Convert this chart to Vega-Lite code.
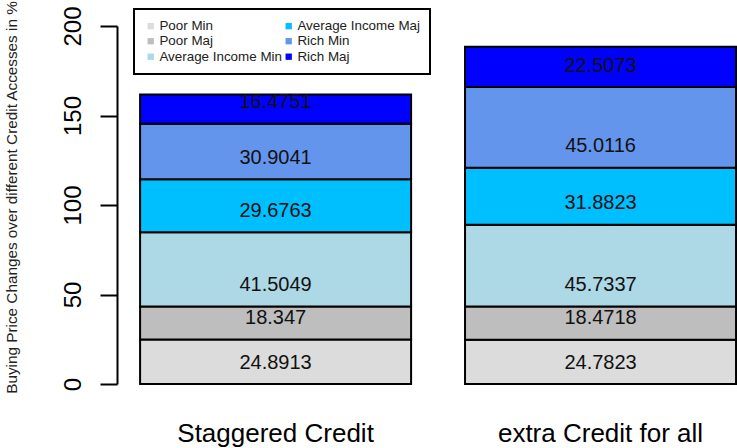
{
  "$schema": "https://vega.github.io/schema/vega-lite/v6.json",
  "width": 620,
  "height": 358,
  "autosize": {"type": "none"},
  "padding": {"left": 117, "top": 26, "right": 0, "bottom": 64},
  "background": "white",
  "config": {
    "view": {"stroke": null},
    "font": "Liberation Sans",
    "legend": {"strokeWidth": 2}
  },
  "data": {
    "values": [
      {"scenario": "Staggered Credit", "group": "Poor Min", "seg": 1, "value": 24.8913},
      {"scenario": "Staggered Credit", "group": "Poor Maj", "seg": 2, "value": 18.347},
      {"scenario": "Staggered Credit", "group": "Average Income Min", "seg": 3, "value": 41.5049},
      {"scenario": "Staggered Credit", "group": "Average Income Maj", "seg": 4, "value": 29.6763},
      {"scenario": "Staggered Credit", "group": "Rich Min", "seg": 5, "value": 30.9041},
      {"scenario": "Staggered Credit", "group": "Rich Maj", "seg": 6, "value": 16.4751},
      {"scenario": "extra Credit for all", "group": "Poor Min", "seg": 1, "value": 24.7823},
      {"scenario": "extra Credit for all", "group": "Poor Maj", "seg": 2, "value": 18.4718},
      {"scenario": "extra Credit for all", "group": "Average Income Min", "seg": 3, "value": 45.7337},
      {"scenario": "extra Credit for all", "group": "Average Income Maj", "seg": 4, "value": 31.8823},
      {"scenario": "extra Credit for all", "group": "Rich Min", "seg": 5, "value": 45.0116},
      {"scenario": "extra Credit for all", "group": "Rich Maj", "seg": 6, "value": 22.5073}
    ]
  },
  "transform": [
    {"stack": "value", "groupby": ["scenario"], "sort": [{"field": "seg", "order": "ascending"}], "as": ["y0", "y1"]}
  ],
  "layer": [
    {
      "mark": {"type": "bar", "stroke": "black", "strokeWidth": 2},
      "encoding": {
        "x": {
          "field": "scenario",
          "type": "nominal",
          "sort": ["Staggered Credit", "extra Credit for all"],
          "scale": {"paddingInner": 0.166, "paddingOuter": 0.037, "align": 0.96},
          "axis": {
            "title": null,
            "domain": false,
            "ticks": false,
            "tickSize": 0,
            "labelAngle": 0,
            "labelFontSize": 26,
            "labelColor": "black",
            "labelPadding": 57,
            "labelBaseline": "alphabetic",
            "labelLimit": 0
          }
        },
        "y": {
          "field": "y0",
          "type": "quantitative",
          "scale": {"domain": [0, 200], "nice": false},
          "axis": {
            "title": "Buying Price Changes over different Credit Accesses in %",
            "titleFontSize": 15.3,
            "titleFontWeight": "normal",
            "titleColor": "#222",
            "titleAngle": 270,
            "titleAlign": "center",
            "titleBaseline": "middle",
            "titleX": -106,
            "titleY": 171,
            "values": [0, 50, 100, 150, 200],
            "grid": false,
            "domainColor": "black",
            "domainWidth": 2,
            "tickColor": "black",
            "tickWidth": 2,
            "tickSize": 17,
            "labelFontSize": 24,
            "labelColor": "black",
            "labelAngle": -90,
            "labelAlign": "center",
            "labelBaseline": "alphabetic",
            "labelPadding": 20,
            "labelFlush": false,
            "labelOverlap": false
          }
        },
        "y2": {"field": "y1"},
        "color": {
          "field": "group",
          "type": "nominal",
          "scale": {
            "domain": ["Poor Min", "Poor Maj", "Average Income Min", "Average Income Maj", "Rich Min", "Rich Maj"],
            "range": ["#dcdcdc", "#bebebe", "#add8e6", "#00bfff", "#6495ed", "#0000ff"]
          },
          "legend": {
            "title": null,
            "orient": "none",
            "legendX": 17,
            "legendY": -17,
            "columns": 2,
            "symbolType": "square",
            "symbolSize": 40,
            "symbolStrokeWidth": 0,
            "labelFontSize": 13.4,
            "labelColor": "#222",
            "labelOffset": 2,
            "labelLimit": 0,
            "padding": 10,
            "rowPadding": 0.5,
            "columnPadding": -12,
            "strokeColor": "black",
            "fillColor": "white"
          }
        }
      }
    },
    {
      "mark": {"type": "text", "fontSize": 20, "color": "#111", "baseline": "middle", "dy": -21.5},
      "encoding": {
        "x": {"field": "scenario", "type": "nominal", "sort": ["Staggered Credit", "extra Credit for all"]},
        "y": {"field": "y0", "type": "quantitative"},
        "text": {"field": "value", "type": "quantitative"}
      }
    }
  ]
}
